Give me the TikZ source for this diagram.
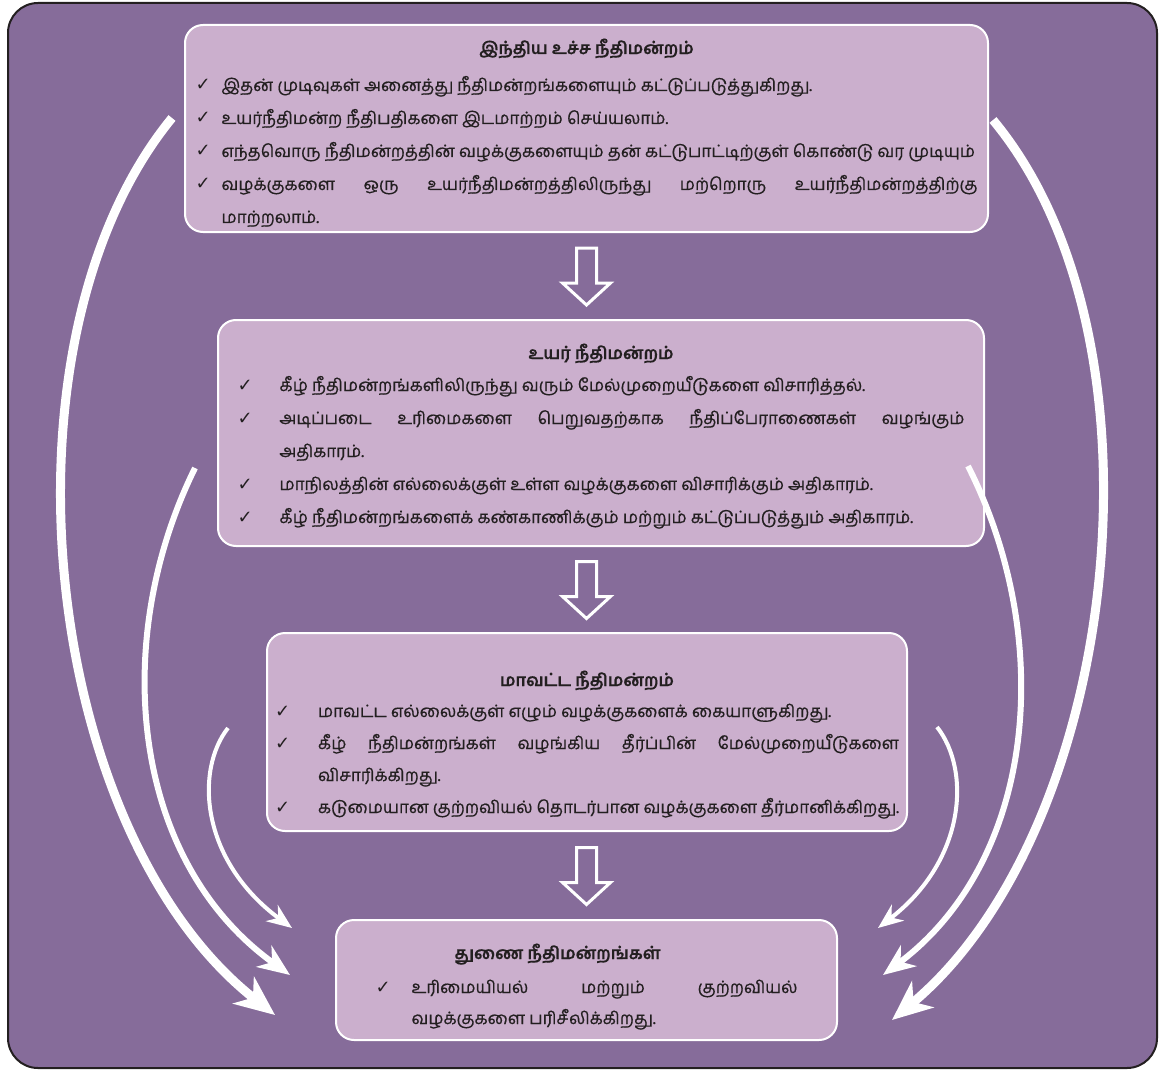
\documentclass[tikz,border=0pt]{standalone}
\usepackage{fontspec}
\setmainfont[Script=Tamil,FakeBold=0.6,BoldFeatures={FakeBold=0.3}]{Hind Madurai}
\newfontfamily\tickfont{DejaVu Sans}
\usetikzlibrary{arrows.meta,calc}
\definecolor{bgpurple}{RGB}{134,108,154}
\definecolor{boxlilac}{RGB}{203,175,205}
\definecolor{inkdark}{RGB}{35,31,32}
\newcommand{\chkitem}[1]{\par\noindent\hangindent=#1\hangafter=1\makebox[#1][l]{\tickfont\fontsize{18}{18}\selectfont ✓}\ignorespaces}
% #1 top strut, #2 extra gap below, #3 title
\newcommand{\courttitle}[3]{{\centering\bfseries\rule{0pt}{#1}#3\par}\vspace{#2}}
\newcommand{\courtend}{\rule[-8pt]{0pt}{8pt}\par}

\begin{document}
\begin{tikzpicture}[x=1pt,y=-1pt,
    court/.style={draw=white,line width=2pt,fill=boxlilac,rounded corners=18pt,
      text=inkdark,align=justify,inner sep=0pt,font=\fontsize{17}{33}\selectfont},
    hollow/.style={draw=white,line width=3pt,line join=miter},
    bigarc/.style={white,line width=9pt,-{Stealth[length=40pt,width=34pt,inset=12pt]}},
    midarc/.style={white,line width=6pt,-{Stealth[length=32pt,width=26pt,inset=10pt]}},
    smallarc/.style={white,line width=4pt,-{Stealth[length=25pt,width=20pt,inset=8pt]}}]
  \useasboundingbox (0,0) rectangle (1159,1070);
  \draw[draw=inkdark,line width=2pt,fill=bgpurple,rounded corners=30pt] (8,3) rectangle (1157,1068);

  \node[court,text width=782pt,minimum width=803pt,minimum height=207pt] (supreme) at (586.5,128.5) {%
    \courttitle{28pt}{4pt}{இந்திய உச்ச நீதிமன்றம்}
    \chkitem{26pt}இதன் முடிவுகள் அனைத்து நீதிமன்றங்களையும் கட்டுப்படுத்துகிறது.
    \chkitem{26pt}உயர்நீதிமன்ற நீதிபதிகளை இடமாற்றம் செய்யலாம்.
    \chkitem{26pt}எந்தவொரு நீதிமன்றத்தின் வழக்குகளையும் தன் கட்டுபாட்டிற்குள் கொண்டு வர முடியும்
    \chkitem{26pt}வழக்குகளை ஒரு உயர்நீதிமன்றத்திலிருந்து மற்றொரு உயர்நீதிமன்றத்திற்கு\linebreak மாற்றலாம்.\courtend};
  \node[court,text width=727pt,minimum width=766pt,minimum height=226pt] (high) at (601,433) {%
    \courttitle{24pt}{-1pt}{உயர் நீதிமன்றம்}
    \chkitem{42pt}கீழ் நீதிமன்றங்களிலிருந்து வரும் மேல்முறையீடுகளை விசாரித்தல்.
    \chkitem{42pt}அடிப்படை உரிமைகளை பெறுவதற்காக நீதிப்பேராணைகள் வழங்கும்\linebreak அதிகாரம்.
    \chkitem{42pt}மாநிலத்தின் எல்லைக்குள் உள்ள வழக்குகளை விசாரிக்கும் அதிகாரம்.
    \chkitem{42pt}கீழ் நீதிமன்றங்களைக் கண்காணிக்கும் மற்றும் கட்டுப்படுத்தும் அதிகாரம்.\courtend};
  \node[court,text width=624pt,minimum width=640pt,minimum height=198pt,
    font=\fontsize{17}{32}\selectfont] (district) at (587,732) {%
    \courttitle{43pt}{-1pt}{மாவட்ட நீதிமன்றம்}
    \chkitem{43pt}மாவட்ட எல்லைக்குள் எழும் வழக்குகளைக் கையாளுகிறது.
    \chkitem{43pt}கீழ் நீதிமன்றங்கள் வழங்கிய தீர்ப்பின் மேல்முறையீடுகளை\linebreak விசாரிக்கிறது.
    \chkitem{43pt}கடுமையான குற்றவியல் தொடர்பான வழக்குகளை தீர்மானிக்கிறது.\courtend};
  \node[court,text width=422pt,minimum width=501pt,minimum height=120pt,
    font=\fontsize{17}{31}\selectfont] (sub) at (586.5,980) {%
    \courttitle{31pt}{3pt}{\hspace*{-58pt}துணை நீதிமன்றங்கள்}
    \chkitem{36pt}உரிமையியல் மற்றும் குற்றவியல்\linebreak வழக்குகளை பரிசீலிக்கிறது.\courtend};

  \foreach \a/\b in {supreme/high,high/district,district/sub}{
    \coordinate (m) at ($(\a.south)!0.5!(\b.north)$);
    \draw[hollow] ([shift={(-10,-28)}]supreme.south |- m) -- ++(20,0) -- ++(0,35)
      -- ++(14,0) -- ++(-24,22) -- ++(-24,-22) -- ++(14,0) -- cycle;
  }

  \coordinate (lo1) at (172,118);
  \coordinate (lo2) at (275,1015);
  \coordinate (lm1) at (195,468);
  \coordinate (lm2) at (290,975);
  \coordinate (li1) at (228,728);
  \coordinate (li2) at (292,928);
  \coordinate (ro1) at (993,120);
  \coordinate (ro2) at (892,1020);
  \coordinate (rm1) at (968,466);
  \coordinate (rm2) at (883,975);
  \coordinate (ri1) at (937,727);
  \coordinate (ri2) at (878,928);
  \draw[bigarc] (lo1) .. controls (-10,340) and (40,830) .. (lo2);
  \draw[midarc] (lm1) .. controls (110,640) and (130,860) .. (lm2);
  \draw[smallarc] (li1) .. controls (195,770) and (200,860) .. (li2);
  \draw[bigarc] (ro1) .. controls (1176,340) and (1120,830) .. (ro2);
  \draw[midarc] (rm1) .. controls (1056,640) and (1036,860) .. (rm2);
  \draw[smallarc] (ri1) .. controls (971,770) and (966,860) .. (ri2);
\end{tikzpicture}
\end{document}
